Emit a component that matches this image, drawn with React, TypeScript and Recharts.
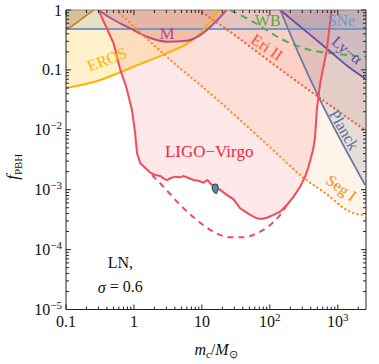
import React from 'react';
import { ComposedChart, Area, Line, Scatter, XAxis, YAxis } from 'recharts';

// PBH abundance constraints, log-normal mass function (sigma = 0.6)
// m_c in solar masses, f = f_PBH

const ligoM = [0.3, 0.5, 0.63, 0.77, 0.935, 1.04, 1.11, 1.24, 1.74, 2.06, 2.44, 2.72, 3.06, 3.42, 4.05, 4.8, 5.36, 6.35, 7.52, 8.91, 10.6, 12.1, 13.2, 14.8, 18.6, 23.3, 29.2, 32.7, 36.6, 43.3, 51.3, 64.4, 76.3, 90.3, 113, 142, 178, 222, 279, 330, 370, 430, 463, 491, 550, 689, 810];
const ligoF = [1, 0.28, 0.1, 0.052, 0.0214, 0.00885, 0.00405, 0.00276, 0.00192, 0.00176, 0.00169, 0.00155, 0.00145, 0.00155, 0.00165, 0.00161, 0.00169, 0.00157, 0.00145, 0.00141, 0.00131, 0.00145, 0.00128, 0.00115, 0.00099, 0.00082, 0.00069, 0.00058, 0.00049, 0.00043, 0.00038, 0.000333, 0.000324, 0.000341, 0.00038, 0.00043, 0.000556, 0.00076, 0.00112, 0.00165, 0.0024, 0.0045, 0.0075, 0.0215, 0.06, 0.215, 1];

const ligoFutureM = [1.84, 2.72, 4.8, 8.44, 14.8, 26, 40.9, 64.4, 101, 142, 178];
const ligoFutureF = [0.00176, 0.00112, 0.000556, 0.000312, 0.000199, 0.00016, 0.00016, 0.000187, 0.000258, 0.00038, 0.000556];

const sneM = [0.1, 2600];
const sneF = [0.48, 0.48];

const hscM = [0.1, 0.162, 0.255];
const hscF = [0.46, 0.68, 1];

const erosM = [0.1, 0.32, 0.63, 0.98, 3.06, 6.7, 9.45, 17.5, 18.6];
const erosF = [0.05, 0.068, 0.092, 0.113, 0.19, 0.296, 0.41, 0.94, 1];

const machoM = [0.3, 0.45, 0.79, 1.55, 3.06, 6.0, 9.45, 14.2, 22, 23];
const machoF = [1, 0.735, 0.526, 0.358, 0.296, 0.307, 0.38, 0.56, 0.94, 1];

const eriM = [9.0, 26, 101, 550, 2520];
const eriF = [1, 0.434, 0.137, 0.0336, 0.0099];

const segM = [0.55, 4.8, 9.45, 101, 312, 697, 1355, 1905, 2600];
const segF = [1, 0.106, 0.056, 0.0051, 0.00159, 0.00083, 0.000458, 0.000393, 0.00038];

const wbM = [26, 51, 178, 392, 861, 2600];
const wbF = [1, 0.68, 0.296, 0.215, 0.189, 0.166];

const lyaM = [142, 370, 728, 1432, 2520];
const lyaF = [1, 0.408, 0.215, 0.113, 0.072];

const planckM = [142, 264, 519, 2520];
const planckF = [1, 0.189, 0.0357, 0.0012];

const gw150914M = [15.7];
const gw150914F = [0.00102];

// annotations
const noteText = ['LIGO−Virgo', 'EROS', 'M', 'WB', 'SNe', 'Ly−α', 'Eri II', 'Planck', 'Seg I', 'LN,', 'σ = 0.6'];
const noteM = [12.8, 0.4, 3.06, 93, 1130, 1370, 91, 1240, 1130, 0.63, 0.63];
const noteF = [0.0043, 0.15, 0.41, 0.68, 0.68, 0.215, 0.24, 0.01, 0.00107, 6.2e-5, 2.38e-5];

const xMajor = [0.1, 1, 10, 100, 1000];
const xBase = ['0.1', '1', '10', '10', '10'];
const xExp = ['', '', '', '2', '3'];
const yMajor = [1e-5, 1e-4, 1e-3, 1e-2, 0.1, 1];
const yBase = ['10', '10', '10', '10', '0.1', '1'];
const yExp = ['−5', '−4', '−3', '−2', '', ''];

const digits = [2, 3, 4, 5, 6, 7, 8, 9];
const xTicks = [...xMajor, ...xMajor.flatMap((v) => digits.map((d) => v * d)).filter((v) => v < 2600)];
const yTicks = [...yMajor, ...yMajor.slice(0, 5).flatMap((v) => digits.map((d) => v * d))];

const pts = (ms: number[], fs: number[]) => ms.map((m, i) => ({ m, f: fs[i] }));

const notes = noteText.map((text, i) => ({ text, m: noteM[i], f: noteF[i] }));

const noteStyle: Record<string, { color: string; angle: number; size: number }> = {
  'LIGO−Virgo': { color: '#F0283A', angle: 0, size: 17 },
  EROS: { color: '#FFB400', angle: -21, size: 16 },
  M: { color: '#B04A86', angle: 0, size: 17 },
  WB: { color: '#4DAA50', angle: 0, size: 16 },
  SNe: { color: '#6A9CCB', angle: 0, size: 16 },
  'Ly−α': { color: '#5E46A6', angle: 40, size: 16 },
  'Eri II': { color: '#EE5A36', angle: 34, size: 16 },
  Planck: { color: '#5C6E9A', angle: 60, size: 16 },
  'Seg I': { color: '#FF8A10', angle: 36, size: 16 },
  'LN,': { color: '#111', angle: 0, size: 16 },
  'σ = 0.6': { color: '#111', angle: 0, size: 16 },
};

const FONT = '"Liberation Serif", "Times New Roman", serif';

function NoteShape(props: any) {
  const { cx, cy, payload } = props;
  const s = noteStyle[payload.text];
  return (
    <text
      x={cx}
      y={cy}
      textAnchor="middle"
      dominantBaseline="central"
      fontSize={s.size}
      fontFamily={FONT}
      fill={s.color}
      transform={`rotate(${s.angle} ${cx} ${cy})`}
    >
      {payload.text === 'σ = 0.6' ? (
        <>
          <tspan fontStyle="italic">σ</tspan> = 0.6
        </>
      ) : (
        payload.text
      )}
    </text>
  );
}

function BlobShape(props: any) {
  const { cx, cy } = props;
  return (
    <path
      d={`M ${cx} ${cy - 5} C ${cx + 4} ${cy - 5} ${cx + 3.5} ${cy + 1} ${cx + 1} ${cy + 4.5} C ${cx - 1} ${cy + 4} ${cx - 3.5} ${cy} ${cx - 3} ${cy - 2.5} C ${cx - 2.5} ${cy - 4.5} ${cx - 1} ${cy - 5} ${cx} ${cy - 5} Z`}
      fill="#4F8EB5"
      stroke="#3A5568"
      strokeWidth={1.2}
    />
  );
}

function XTick(props: any) {
  const { x, y, payload, side } = props;
  const i = xMajor.indexOf(payload.value);
  const len = i >= 0 ? 5 : 3;
  const dir = side === 'bottom' ? -1 : 1;
  return (
    <g>
      <line x1={x} y1={y} x2={x} y2={y + dir * len} stroke="#222" strokeWidth={1} />
      {side === 'bottom' && i >= 0 && (
        <text x={x} y={y + 17} textAnchor="middle" fontSize={16} fontFamily={FONT} fill="#111">
          {xBase[i]}
          {xExp[i] && (
            <tspan dy={-6} fontSize={11}>
              {xExp[i]}
            </tspan>
          )}
        </text>
      )}
    </g>
  );
}

function YTick(props: any) {
  const { x, y, payload, side } = props;
  const i = yMajor.indexOf(payload.value);
  const len = i >= 0 ? 5 : 3;
  const dir = side === 'left' ? 1 : -1;
  return (
    <g>
      <line x1={x} y1={y} x2={x + dir * len} y2={y} stroke="#222" strokeWidth={1} />
      {side === 'left' && i >= 0 && (
        <text x={x - 4} y={y + 5.5} textAnchor="end" fontSize={16} fontFamily={FONT} fill="#111">
          {yBase[i]}
          {yExp[i] && (
            <tspan dy={-6} fontSize={11}>
              {yExp[i]}
            </tspan>
          )}
        </text>
      )}
    </g>
  );
}

function XTitle(props: any) {
  const { viewBox } = props;
  const cx = viewBox.x + viewBox.width / 2;
  return (
    <text x={cx} y={viewBox.y + 45} textAnchor="middle" fontSize={16} fontFamily={FONT} fill="#111">
      <tspan fontStyle="italic">m</tspan>
      <tspan fontSize={11} dy={3}>c</tspan>
      <tspan dy={-3}>/</tspan>
      <tspan fontStyle="italic">M</tspan>
      <tspan fontSize={11} dy={3}>⊙</tspan>
    </text>
  );
}

function YTitle(props: any) {
  const { viewBox } = props;
  const cx = 18;
  const cy = viewBox.y + viewBox.height / 2 + 7;
  return (
    <text
      x={cx}
      y={cy}
      textAnchor="middle"
      fontSize={17}
      fontFamily={FONT}
      fill="#111"
      transform={`rotate(-90 ${cx} ${cy})`}
    >
      <tspan fontStyle="italic">f</tspan>
      <tspan fontSize={11} dy={3.5}>PBH</tspan>
    </text>
  );
}

const dotted = { strokeDasharray: '0.1 4.3', strokeLinecap: 'round' as const, strokeWidth: 2.3 };

export default function App() {
  return (
    <div style={{ position: 'absolute', left: 0, top: 0, background: '#fff' }}>
      <ComposedChart width={379} height={364} margin={{ top: 9, right: 12, bottom: 0, left: 0 }}>
        <XAxis
          xAxisId="b"
          dataKey="m"
          type="number"
          scale="log"
          domain={[0.1, 2600]}
          allowDataOverflow
          ticks={xTicks}
          interval={0}
          tickSize={0}
          tickMargin={0}
          tickLine={false}
          height={54.5}
          axisLine={{ stroke: '#222' }}
          tick={(p: any) => <XTick {...p} side="bottom" />}
          label={{ content: (p: any) => <XTitle {...p} /> }}
        />
        <XAxis
          xAxisId="t"
          orientation="top"
          dataKey="m"
          type="number"
          scale="log"
          domain={[0.1, 2600]}
          allowDataOverflow
          ticks={xTicks}
          interval={0}
          tickSize={0}
          tickMargin={0}
          tickLine={false}
          height={1}
          axisLine={{ stroke: '#888' }}
          tick={(p: any) => <XTick {...p} side="top" />}
        />
        <YAxis
          yAxisId="l"
          dataKey="f"
          type="number"
          scale="log"
          domain={[1e-5, 1]}
          allowDataOverflow
          ticks={yTicks}
          interval={0}
          tickSize={0}
          tickMargin={0}
          tickLine={false}
          width={66}
          axisLine={{ stroke: '#222' }}
          tick={(p: any) => <YTick {...p} side="left" />}
          label={{ content: (p: any) => <YTitle {...p} /> }}
        />
        <YAxis
          yAxisId="r"
          orientation="right"
          dataKey="f"
          type="number"
          scale="log"
          domain={[1e-5, 1]}
          allowDataOverflow
          ticks={yTicks}
          interval={0}
          tickSize={0}
          tickMargin={0}
          tickLine={false}
          width={1}
          axisLine={{ stroke: '#222' }}
          tick={(p: any) => <YTick {...p} side="right" />}
        />

        {/* excluded regions */}
        <Area xAxisId="b" yAxisId="l" data={pts(sneM, sneF)} dataKey="f" baseValue={1} type="linear" stroke="none" fill="#6F9BC8" fillOpacity={0.22} isAnimationActive={false} />
        <Area xAxisId="b" yAxisId="l" data={pts(erosM, erosF)} dataKey="f" baseValue={1} type="monotone" stroke="none" fill="#FFD24D" fillOpacity={0.3} isAnimationActive={false} />
        <Area xAxisId="b" yAxisId="l" data={pts(hscM, hscF)} dataKey="f" baseValue={1} type="monotone" stroke="none" fill="#A0622A" fillOpacity={0.25} isAnimationActive={false} />
        <Area xAxisId="b" yAxisId="l" data={pts(machoM, machoF)} dataKey="f" baseValue={1} type="monotone" stroke="none" fill="#B04A86" fillOpacity={0.2} isAnimationActive={false} />
        <Area xAxisId="b" yAxisId="l" data={pts(eriM, eriF)} dataKey="f" baseValue={1} type="monotone" stroke="none" fill="#F0643C" fillOpacity={0.13} isAnimationActive={false} />
        <Area xAxisId="b" yAxisId="l" data={pts(segM, segF)} dataKey="f" baseValue={1} type="monotone" stroke="none" fill="#FFB060" fillOpacity={0.14} isAnimationActive={false} />
        <Area xAxisId="b" yAxisId="l" data={pts(ligoM, ligoF)} dataKey="f" baseValue={1} type="linear" stroke="none" fill="#F98A98" fillOpacity={0.2} isAnimationActive={false} />
        <Area xAxisId="b" yAxisId="l" data={pts(lyaM, lyaF)} dataKey="f" baseValue={1} type="monotone" stroke="none" fill="#6A4A9E" fillOpacity={0.15} isAnimationActive={false} />
        <Area xAxisId="b" yAxisId="l" data={pts(planckM, planckF)} dataKey="f" baseValue={1} type="monotone" stroke="none" fill="#7A8294" fillOpacity={0.2} isAnimationActive={false} />

        {/* boundaries */}
        <Line xAxisId="b" yAxisId="l" data={pts(sneM, sneF)} dataKey="f" type="linear" stroke="#6F9BC8" strokeWidth={2} dot={false} isAnimationActive={false} />
        <Line xAxisId="b" yAxisId="l" data={pts(hscM, hscF)} dataKey="f" type="monotone" stroke="#C47A2C" strokeWidth={1.6} dot={false} isAnimationActive={false} />
        <Line xAxisId="b" yAxisId="l" data={pts(erosM, erosF)} dataKey="f" type="monotone" stroke="#FFB200" strokeWidth={2} dot={false} isAnimationActive={false} />
        <Line xAxisId="b" yAxisId="l" data={pts(machoM, machoF)} dataKey="f" type="monotone" stroke="#B44E88" strokeWidth={2} dot={false} isAnimationActive={false} />
        <Line xAxisId="b" yAxisId="l" data={pts(eriM, eriF)} dataKey="f" type="monotone" stroke="#F0643C" {...dotted} dot={false} isAnimationActive={false} />
        <Line xAxisId="b" yAxisId="l" data={pts(segM, segF)} dataKey="f" type="monotone" stroke="#FF8C1A" {...dotted} dot={false} isAnimationActive={false} />
        <Line xAxisId="b" yAxisId="l" data={pts(wbM, wbF)} dataKey="f" type="monotone" stroke="#4DAE50" strokeWidth={2} strokeDasharray="7 5" dot={false} isAnimationActive={false} />
        <Line xAxisId="b" yAxisId="l" data={pts(lyaM, lyaF)} dataKey="f" type="monotone" stroke="#6A4A9E" strokeWidth={1.8} dot={false} isAnimationActive={false} />
        <Line xAxisId="b" yAxisId="l" data={pts(planckM, planckF)} dataKey="f" type="monotone" stroke="#6A7AA0" strokeWidth={1.8} dot={false} isAnimationActive={false} />
        <Line xAxisId="b" yAxisId="l" data={pts(ligoFutureM, ligoFutureF)} dataKey="f" type="monotone" stroke="#F24B5B" strokeWidth={2} strokeDasharray="6 5" dot={false} isAnimationActive={false} />
        <Line xAxisId="b" yAxisId="l" data={pts(ligoM, ligoF)} dataKey="f" type="linear" stroke="#F24B5B" strokeWidth={2} dot={false} isAnimationActive={false} />

        <Scatter xAxisId="b" yAxisId="l" data={pts(gw150914M, gw150914F)} dataKey="f" shape={(p: any) => <BlobShape {...p} />} isAnimationActive={false} />
        <Scatter xAxisId="b" yAxisId="l" data={notes} dataKey="f" shape={(p: any) => <NoteShape {...p} />} isAnimationActive={false} />
      </ComposedChart>
    </div>
  );
}
